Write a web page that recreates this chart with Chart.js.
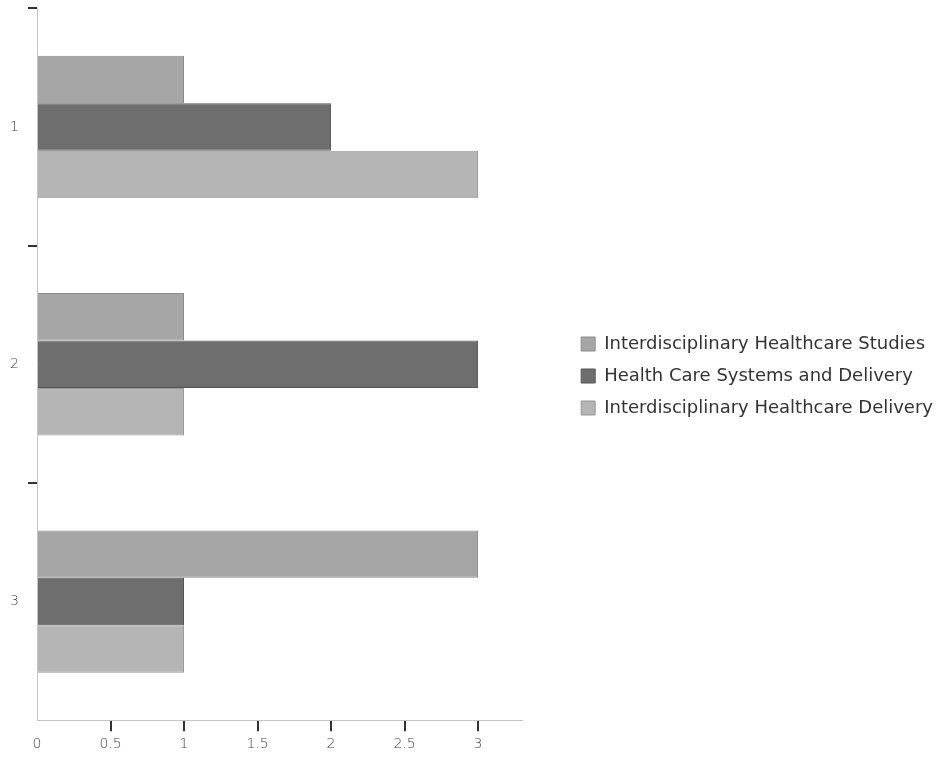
<!DOCTYPE html>
<html>
<head>
<meta charset="utf-8">
<script src="https://cdn.jsdelivr.net/npm/chart.js@4.4.1/dist/chart.umd.min.js"></script>
<style>
    html, body { margin: 0; padding: 0; background: #fff; }
    #wrap { width: 943px; height: 757px; }
</style>
</head>
<body>
<div id="wrap"><canvas id="chart"></canvas></div>
<script>
const categories = ['1', '2', '3'];
const seriesNames = [
    'Interdisciplinary Healthcare Studies',
    'Health Care Systems and Delivery',
    'Interdisciplinary Healthcare Delivery'
];
const studiesValues = [1, 1, 3];
const systemsValues = [2, 3, 1];
const deliveryValues = [3, 1, 1];
const xTickValues = [0, 0.5, 1, 1.5, 2, 2.5, 3];

// legend keeps its place but reserves extra room on its left
const LEGEND_GAP = 45;
const legendGap = {
    id: 'legendGap',
    beforeLayout(chart) {
        const legend = chart.legend;
        if (legend && !legend._gapPatched) {
            const fit = legend.fit;
            legend.fit = function () {
                fit.call(this);
                this.width += LEGEND_GAP;
            };
            legend._gapPatched = true;
        }
    },
    afterLayout(chart) {
        if (chart.legend) {
            chart.legend.left += LEGEND_GAP;
            chart.legend.top -= 3;
            chart.legend.bottom -= 3;
        }
    }
};

const tickFont = { family: 'DejaVu Sans', size: 14, weight: 200 };
const tickMark = ctx => ctx.type === 'tick' ? '#333' : 'rgba(0,0,0,0)';

new Chart(document.getElementById('chart'), {
    type: 'bar',
    data: {
        labels: categories,
        datasets: [
            {
                label: seriesNames[0],
                data: studiesValues,
                backgroundColor: '#a6a6a6',
                borderColor: '#8a8a8a',
                borderWidth: 1
            },
            {
                label: seriesNames[1],
                data: systemsValues,
                backgroundColor: '#6e6e6e',
                borderColor: '#555555',
                borderWidth: 1
            },
            {
                label: seriesNames[2],
                data: deliveryValues,
                backgroundColor: '#b5b5b5',
                borderColor: '#999999',
                borderWidth: 1
            }
        ]
    },
    options: {
        indexAxis: 'y',
        responsive: true,
        maintainAspectRatio: false,
        animation: false,
        layout: { padding: { top: 0, left: 10, right: 0, bottom: -1 } },
        datasets: {
            bar: { categoryPercentage: 0.6, barPercentage: 1 }
        },
        plugins: {
            legend: {
                position: 'right',
                maxWidth: 600,
                labels: {
                    boxWidth: 14,
                    boxHeight: 14,
                    padding: 14,
                    color: '#333',
                    font: { family: 'DejaVu Sans', size: 18 }
                }
            },
            tooltip: { enabled: false }
        },
        scales: {
            x: {
                min: 0,
                max: 3.3,
                afterBuildTicks: axis => {
                    axis.ticks = xTickValues.map(v => ({ value: v }));
                },
                grid: {
                    drawOnChartArea: false,
                    drawTicks: true,
                    tickLength: 11,
                    lineWidth: 2,
                    color: ctx => ctx.index === 0 ? 'rgba(0,0,0,0)' : '#333'
                },
                border: { color: '#c4c4c4', width: 1, dash: [1, 2] },
                ticks: {
                    color: '#444',
                    font: tickFont,
                    padding: 5,
                    callback: v => String(v)
                }
            },
            y: {
                afterFit: axis => {
                    axis.width = 27;
                },
                grid: {
                    drawOnChartArea: false,
                    drawTicks: true,
                    tickLength: 9,
                    lineWidth: 2,
                    color: tickMark
                },
                border: { color: '#c4c4c4', width: 1, dash: [1, 2] },
                ticks: { color: '#444', font: tickFont, padding: 0, crossAlign: 'far' }
            }
        }
    },
    plugins: [legendGap]
});
</script>
</body>
</html>
